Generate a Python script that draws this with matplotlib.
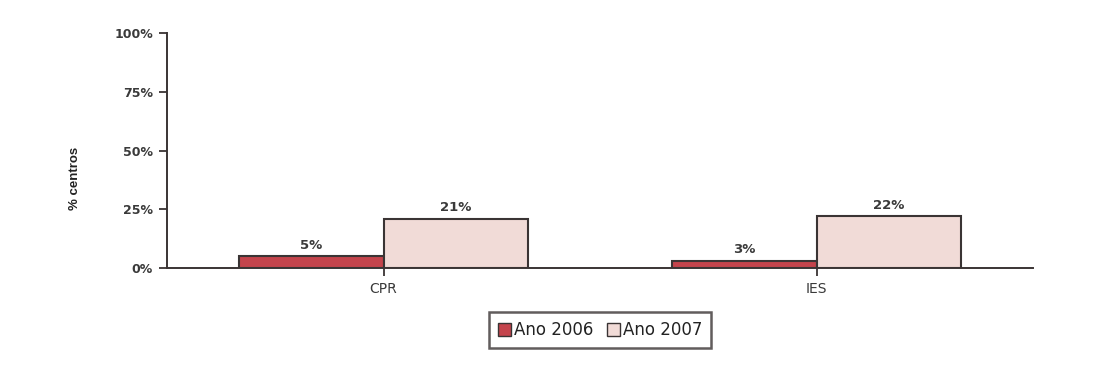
import numpy as np
import matplotlib.pyplot as plt
from matplotlib.patches import Patch

categories = ['CPR', 'IES']
ano_2006 = [5, 3]
ano_2007 = [21, 22]
labels_2006 = ['5%', '3%']
labels_2007 = ['21%', '22%']

plt.rcParams['font.family'] = ['DejaVu Sans']

fig = plt.figure(figsize=(11.1, 3.81), dpi=100)
ax = fig.add_axes([167 / 1110, 1 - 268 / 381, 866 / 1110, 235 / 381])

x = np.arange(len(categories))
w = 1 / 3
red = '#c4444c'
pink = '#f1dbd7'
edge = '#3a3434'
txt = '#3a3a3a'

b1 = ax.bar(x - w / 2, ano_2006, w, color=red, edgecolor=edge, linewidth=1.5)
b2 = ax.bar(x + w / 2, ano_2007, w, color=pink, edgecolor=edge, linewidth=1.5)

for bars, labs in [(b1, labels_2006), (b2, labels_2007)]:
    for rect, t in zip(bars, labs):
        ax.text(rect.get_x() + rect.get_width() / 2, rect.get_height() + 2, t,
                ha='center', va='bottom', fontsize=9.5, fontweight='bold', color=txt)

ax.set_xlim(-0.5, 1.5)
ax.set_ylim(0, 100)
ax.set_yticks([0, 25, 50, 75, 100])
ax.set_yticklabels(['0%', '25%', '50%', '75%', '100%'], fontsize=9, fontweight='bold', color=txt)
ax.set_xticks(x)
ax.set_xticklabels(categories, fontsize=10, color=txt)
ax.tick_params(axis='both', direction='out', length=6, color=edge, width=1.3, pad=4)

# y label sits a bit below the axes centre in the original
fig.text(75 / 1110, 1 - 178 / 381, '% centros', rotation=90, ha='center', va='center',
         fontsize=9.5, fontweight='bold', color='#222222', family='Liberation Sans')

for s in ['top', 'right']:
    ax.spines[s].set_visible(False)
for s in ['left', 'bottom']:
    ax.spines[s].set_color(edge)
    ax.spines[s].set_linewidth(1.4)

handles = [Patch(facecolor=red, edgecolor=edge, label='Ano 2006'),
           Patch(facecolor=pink, edgecolor=edge, label='Ano 2007')]
leg = fig.legend(handles=handles, loc='center', bbox_to_anchor=(600 / 1110, 1 - 330 / 381),
                 ncol=2, fontsize=12, frameon=True, fancybox=False, handlelength=0.8,
                 handleheight=0.8, handletextpad=0.15, columnspacing=0.8, borderpad=0.55,
                 borderaxespad=0)
leg.get_frame().set_edgecolor(edge)
leg.get_frame().set_linewidth(1.8)
for t in leg.get_texts():
    t.set_color('#222222')

fig.savefig('out.png', dpi=100)
